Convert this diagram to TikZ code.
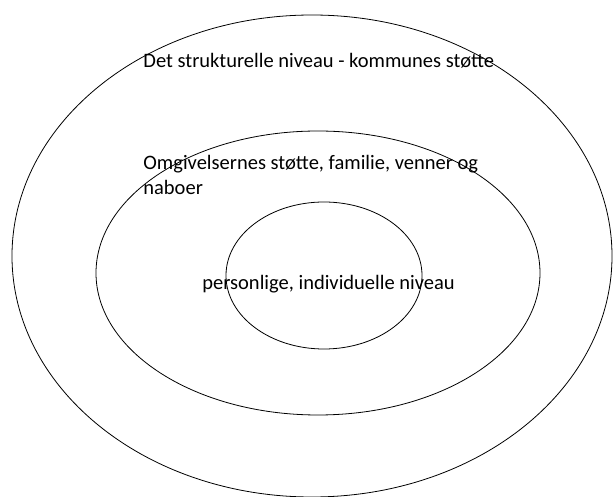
\documentclass[tikz,border=0pt]{standalone}
\usepackage{fontspec}
\setmainfont{Carlito}

\begin{document}
\begin{tikzpicture}[x=1pt, y=-1pt, line width=0.8pt,
  niveau/.style={anchor=base west, inner sep=0pt, align=left,
    font=\fontsize{20.5}{25}\selectfont}]
\useasboundingbox (0,0) rectangle (614,497);
\draw (312,256) ellipse (300 and 241);
\draw (318,273) ellipse (222 and 142);
\draw (324,275.5) ellipse (98 and 73.5);
\node[niveau] (strukturel) at (143,68) {Det strukturelle niveau - kommunes støtte};
\node[niveau] (omgivelser) at (143,195) {Omgivelsernes støtte, familie, venner og\\naboer};
\node[niveau] (personlig) at (202,290) {personlige, individuelle niveau};
\end{tikzpicture}
\end{document}
